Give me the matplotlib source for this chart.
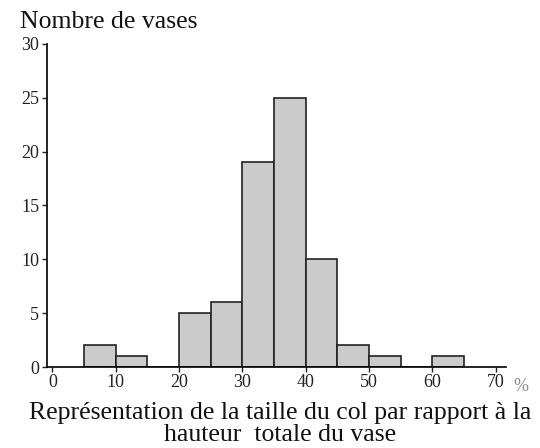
import matplotlib
matplotlib.use('Agg')
import matplotlib.pyplot as plt
import numpy as np

# bins (% of total height) and number of vases per bin
bin_left = [5, 10, 15, 20, 25, 30, 35, 40, 45, 50, 55, 60]
counts = [2, 1, 0, 5, 6, 19, 25, 10, 2, 1, 0, 1]
bin_width = 5
x_ticks = [0, 10, 20, 30, 40, 50, 60, 70]
y_ticks = [0, 5, 10, 15, 20, 25, 30]

plt.rcParams['font.family'] = ['Liberation Serif', 'DejaVu Serif']

fig = plt.figure(figsize=(5.4, 4.48), dpi=100)
ax = fig.add_axes([0.0865, 0.1808, 0.8505, 0.721])

ax.bar(bin_left, counts, width=bin_width, align='edge',
       color='#cbcbcb', edgecolor='#222222', linewidth=1.2)

ax.set_xlim(-0.9, 71.6)
ax.set_ylim(0, 30)
ax.set_xticks(x_ticks)
ax.set_yticks(y_ticks)
ax.spines['top'].set_visible(False)
ax.spines['right'].set_visible(False)
ax.spines['left'].set_linewidth(1.2)
ax.spines['bottom'].set_linewidth(1.2)
ax.tick_params(axis='both', labelsize=13, length=3.5, width=1, color='#222222',
               labelcolor='#222222')
ax.tick_params(axis='x', pad=1.5)
ax.tick_params(axis='y', pad=2)

ax.text(72.7, -1.0, '%', fontsize=13, color='#888888',
        ha='left', va='top')

fig.text(0.037, 0.952, 'Nombre de vases', fontsize=18.5, ha='left', va='center',
         color='#111111')
fig.text(0.518, 0.053, 'Représentation de la taille du col par rapport à la\nhauteur  totale du vase',
         fontsize=18.5, ha='center', va='center', linespacing=0.98, color='#111111')

fig.savefig('out.png', dpi=100)
